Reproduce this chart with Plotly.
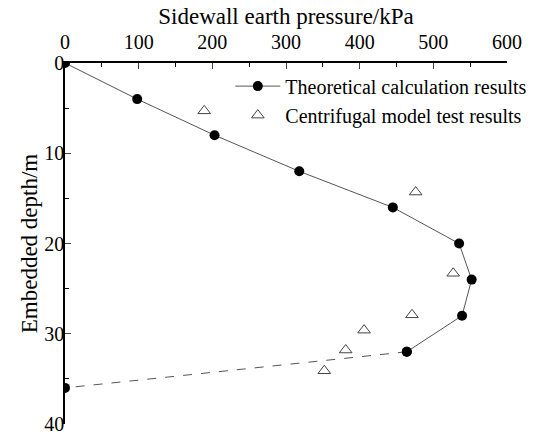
import plotly.graph_objects as go

theory_pressure = [0, 98, 203, 318, 445, 535, 552, 539, 464, 0]
theory_depth = [0, 4, 8, 12, 16, 20, 24, 28, 32, 36]
test_pressure = [189, 476, 527, 471, 406, 381, 352]
test_depth = [5.3, 14.3, 23.3, 27.9, 29.6, 31.8, 34.1]
x_ticks = [0, 100, 200, 300, 400, 500, 600]
y_ticks = [0, 10, 20, 30, 40]

font = "Liberation Serif, Times New Roman, serif"
fig = go.Figure()
# solid part
fig.add_trace(go.Scatter(x=theory_pressure[:-1], y=theory_depth[:-1], mode="lines+markers",
                         name="Theoretical calculation results",
                         line=dict(color="#555555", width=1),
                         marker=dict(color="black", size=10, symbol="circle")))
# dashed final segment
fig.add_trace(go.Scatter(x=theory_pressure[-2:], y=theory_depth[-2:], mode="lines+markers",
                         showlegend=False,
                         line=dict(color="#555555", width=1, dash="dash"),
                         marker=dict(color="black", size=10, symbol="circle")))
fig.add_trace(go.Scatter(x=test_pressure, y=test_depth, mode="markers",
                         name="Centrifugal model test results",
                         marker=dict(symbol="triangle-up-open", size=11, color="#444444",
                                     line=dict(width=1))))

fig.update_layout(
    width=534, height=434,
    margin=dict(l=65, r=27, t=63, b=10, autoexpand=False),
    paper_bgcolor="white", plot_bgcolor="white",
    font=dict(family=font, size=20, color="black"),
    legend=dict(x=0.374, y=0.99, xanchor="left", yanchor="top",
                font=dict(family=font, size=20), bgcolor="rgba(0,0,0,0)",
                tracegroupgap=0, itemwidth=45),
    xaxis=dict(side="top", range=[0, 600], tickvals=x_ticks, ticks="inside", ticklen=6,
               tickwidth=1.2, showline=True, linecolor="black", linewidth=1.5,
               showgrid=False, zeroline=False, ticklabelstandoff=4, ticklabeloverflow="allow",
               minor=dict(ticks="inside", ticklen=4, dtick=50, tickcolor="black", showgrid=False),
               title=dict(text="Sidewall earth pressure/kPa", font=dict(family=font, size=23), standoff=0),
               tickfont=dict(family=font, size=20)),
    yaxis=dict(range=[40, 0], tickvals=y_ticks, ticks="inside", ticklen=6, tickwidth=1.2,
               showline=True, linecolor="black", linewidth=1.5, showgrid=False, zeroline=False,
               ticklabelstandoff=-5, ticklabeloverflow="allow",
               minor=dict(ticks="inside", ticklen=4, dtick=5, tickcolor="black", showgrid=False),
               title=dict(text="Embedded depth/m", font=dict(family=font, size=23), standoff=0),
               tickfont=dict(family=font, size=20)),
)
fig.write_html("out.html", post_script="document.body.style.margin='0';",
               config={"displayModeBar": False})
